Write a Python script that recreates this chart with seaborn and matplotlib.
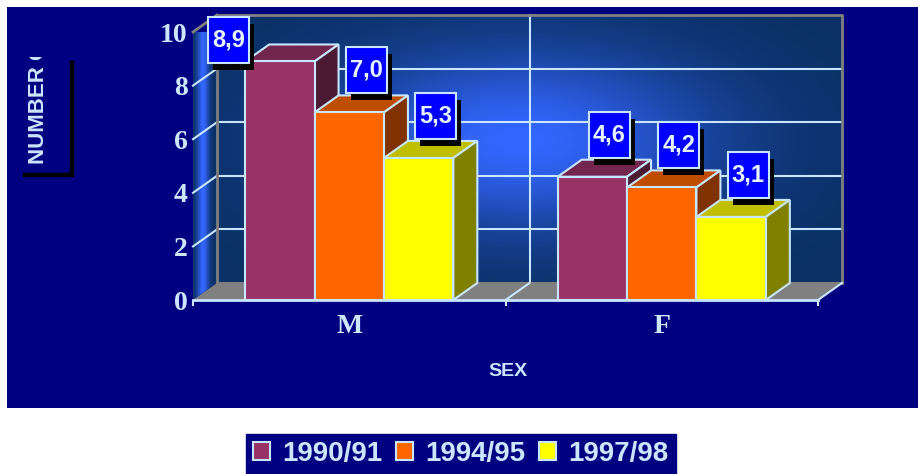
import numpy as np
import matplotlib.pyplot as plt
import matplotlib.colors as mcolors
import seaborn as sns
import pandas as pd
from matplotlib.patches import Polygon, Rectangle
from matplotlib.lines import Line2D
from matplotlib.transforms import Bbox, TransformedBbox

sexes = ['M', 'F']
years = ['1990/91', '1994/95', '1997/98']
vals_1990 = [8.9, 4.6]
vals_1994 = [7.0, 4.2]
vals_1997 = [5.3, 3.1]
y_ticks = [0, 2, 4, 6, 8, 10]

df = pd.DataFrame({
    'sex': sexes * 3,
    'year': np.repeat(years, len(sexes)),
    'value': vals_1990 + vals_1994 + vals_1997,
})

NAVY = '#000080'
LIGHT = '#cce6ff'
EDGE = '#c8e6ff'
GRAY = '#808080'
bar_colors = ['#993366', '#ff6600', '#ffff00']
SANS = 'Liberation Sans'
SERIF = 'Liberation Serif'

W, H = 918, 474
fig = plt.figure(figsize=(W / 100, H / 100), dpi=100)
fig.add_artist(Rectangle((7 / W, 1 - 408 / H), 1, 401 / H, transform=fig.transFigure,
                         facecolor=NAVY, edgecolor='none', zorder=-10))

# front plane of the 3d box
ax = fig.add_axes([193 / W, 1 - 300 / H, 625 / W, 268 / H])
ax.patch.set_visible(False)

ymax = y_ticks[-1]
ux = 625 / len(sexes)          # px per category
uy = 268 / ymax                # px per unit
ddx, ddy = 24 / ux, 17 / uy    # depth offset
x_lo, x_hi = -0.5, len(sexes) - 0.5

# back wall gradient
dark = np.array([10, 48, 100]) / 255
bright = np.array([51, 102, 255]) / 255
px = np.linspace(218, 842, 400)
py = np.linspace(15, 283, 200)
b = np.outer(np.exp(-((py - 140) / 90) ** 2), np.exp(-((px - 520) / 190) ** 2))[..., None]
ax.imshow(dark + (bright - dark) * b, extent=(x_lo + ddx, x_hi + ddx, ddy, ymax + ddy),
          aspect='auto', clip_on=False, zorder=0, interpolation='bilinear')

# left side wall
sx = np.linspace(0, 24, 60)
side_img = dark + (bright - dark) * np.exp(-((sx - 10) / 6) ** 2)[None, :, None]
side_poly = Polygon([(x_lo, 0), (x_lo + ddx, ddy), (x_lo + ddx, ymax + ddy), (x_lo, ymax)],
                    closed=True, facecolor='none', edgecolor='none')
ax.add_patch(side_poly)
im = ax.imshow(side_img, extent=(x_lo, x_lo + ddx, 0, ymax + ddy), aspect='auto', zorder=0,
               interpolation='bilinear')
im.set_clip_path(side_poly)
im.set_clip_box(None)

# grid on walls
for t in y_ticks[1:-1]:
    ax.plot([x_lo + ddx, x_hi + ddx], [t + ddy, t + ddy], color=EDGE, lw=1.5, clip_on=False, zorder=1)
    ax.plot([x_lo, x_lo + ddx], [t, t + ddy], color=EDGE, lw=1.5, clip_on=False, zorder=1)
bounds = np.arange(len(sexes) + 1) - 0.5
for xb in bounds[1:-1]:
    ax.plot([xb + ddx, xb + ddx], [ddy, ymax + ddy], color=EDGE, lw=1.5, clip_on=False, zorder=1)
ax.plot([x_lo + ddx, x_lo + ddx, x_hi + ddx, x_hi + ddx], [ddy, ymax + ddy, ymax + ddy, ddy],
        color=GRAY, lw=2, clip_on=False, zorder=1.2)
ax.plot([x_lo, x_lo + ddx], [ymax, ymax + ddy], color=GRAY, lw=2, clip_on=False, zorder=1.2)

# floor
ax.add_patch(Polygon([(x_lo, 0), (x_hi, 0), (x_hi + ddx, ddy), (x_lo + ddx, ddy)], closed=True,
                     facecolor=GRAY, edgecolor='none', zorder=1.5, clip_on=False))
ax.plot([x_lo + ddx, x_hi + ddx], [ddy, ddy], color=GRAY, lw=1.5, clip_on=False, zorder=1.6)
for xb in bounds[1:]:
    ax.plot([xb, xb + ddx], [0, ddy], color=EDGE, lw=1.5, clip_on=False, zorder=1.6)

sns.barplot(data=df, x='sex', y='value', hue='year', order=sexes, hue_order=years,
            palette=bar_colors, saturation=1, width=0.666, errorbar=None,
            edgecolor=EDGE, linewidth=1.5, legend=False, ax=ax)

# top and side faces for each bar, drawn left to right
bars = sorted([(p, c) for cont, c in zip(ax.containers, bar_colors) for p in cont],
              key=lambda t: t[0].get_x())
for i, (p, c) in enumerate(bars):
    x0, w, h = p.get_x(), p.get_width(), p.get_height()
    x1 = x0 + w
    z = 3 + i * 0.1
    rgb = np.array(mcolors.to_rgb(c))
    ax.add_patch(Polygon([(x0, h), (x1, h), (x1 + ddx, h + ddy), (x0 + ddx, h + ddy)], closed=True,
                         facecolor=rgb * 0.75, edgecolor=EDGE, lw=1.5, zorder=z, clip_on=False))
    ax.add_patch(Polygon([(x1, 0), (x1 + ddx, ddy), (x1 + ddx, h + ddy), (x1, h)], closed=True,
                         facecolor=rgb * 0.5, edgecolor=EDGE, lw=1.5, zorder=z, clip_on=False))
    p.set_zorder(z + 0.05)

# value boxes
box_w, box_h = 41 / ux, 46 / uy
top_lim = ymax + ddy - 2 / uy
for p, c in bars:
    h = p.get_height()
    cx = p.get_x() + p.get_width() / 2 + 17 / ux
    by = h + 19 / uy
    if by + box_h > top_lim:
        by = top_lim - box_h
        cx = p.get_x() + 4 / ux - box_w / 2
    ax.add_patch(Rectangle((cx - box_w / 2 + 5 / ux, by - 7 / uy), box_w, box_h,
                           facecolor='black', edgecolor='none', zorder=10, clip_on=False))
    ax.add_patch(Rectangle((cx - box_w / 2, by), box_w, box_h, facecolor='#0000ff',
                           edgecolor=EDGE, lw=1.5, zorder=11, clip_on=False))
    ax.text(cx, by + box_h / 2, f'{h:.1f}'.replace('.', ','), ha='center', va='center',
            fontsize=17, fontweight='bold', family=SANS, color='#e6f2ff', zorder=12)

ax.set_xlim(x_lo, x_hi)
ax.set_ylim(0, ymax)
ax.set_yticks(y_ticks)
ax.set_xticks(range(len(sexes)), sexes)
ax.set_xticks(bounds, minor=True)
ax.set_xlabel('')
ax.set_ylabel('')
for lab in ax.get_xticklabels() + ax.get_yticklabels():
    lab.set_fontfamily(SERIF)
    lab.set_fontweight('bold')
    lab.set_fontsize(20)
    lab.set_color(LIGHT)
ax.tick_params(axis='y', length=0, pad=4)
ax.tick_params(axis='x', which='major', length=0, pad=10)
ax.tick_params(axis='x', which='minor', length=4.5, width=1.5, color=EDGE, direction='out')
for s in ['top', 'right', 'left']:
    ax.spines[s].set_visible(False)
ax.spines['bottom'].set_color(EDGE)
ax.spines['bottom'].set_linewidth(2)
ax.spines['bottom'].set_zorder(20)

fig.text(508 / W, 1 - 372 / H, 'SEX', ha='center', va='center', fontsize=14,
         fontweight='bold', family=SANS, color=LIGHT)
ylab = fig.text(39 / W, 1 - 164 / H, 'NUMBER OF', rotation=90, ha='center', va='bottom',
                fontsize=16, fontweight='bold', family=SANS, color=LIGHT)
ylab.set_clip_box(TransformedBbox(Bbox([[0, 0], [1, 1 - 57 / H]]), fig.transFigure))
ylab.set_clip_on(True)
fig.add_artist(Line2D([72 / W, 72 / W, 25 / W], [1 - 63 / H, 1 - 175 / H, 1 - 175 / H],
                      transform=fig.transFigure, color='black', lw=3.2, solid_joinstyle='miter'))

handles = [Rectangle((0, 0), 1, 1, facecolor=c, edgecolor=EDGE, lw=1.5) for c in bar_colors]
fig.legend(handles, years, loc='lower center', bbox_to_anchor=(461 / W, 0), ncol=3,
           frameon=True, facecolor=NAVY, edgecolor=NAVY, framealpha=1, fancybox=False,
           prop=dict(family=SANS, weight='bold', size=20), labelcolor=LIGHT,
           handlelength=0.6, handleheight=0.6, handletextpad=0.45, columnspacing=0.5,
           borderpad=0.25, borderaxespad=0)

plt.savefig('out.png', dpi=100)
